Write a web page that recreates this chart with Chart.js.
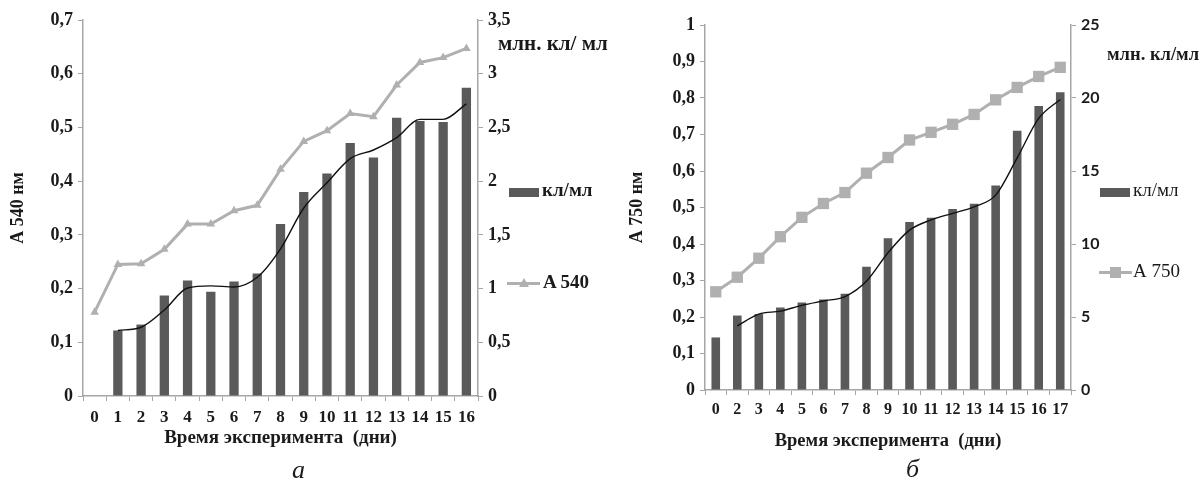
<!DOCTYPE html>
<html>
<head>
<meta charset="utf-8">
<script src="https://cdn.jsdelivr.net/npm/chart.js@4.4.1/dist/chart.umd.min.js"></script>
<style>
  body { margin: 0; background: #fff; }
  .page {
    position: relative;
    width: 1201px;
    height: 479px;
    overflow: hidden;
    font-family: "Liberation Serif", "DejaVu Serif", serif;
    color: #1a1a1a;
  }
  .panel { position: absolute; top: 0; height: 479px; }
  .lbl { position: absolute; white-space: nowrap; line-height: 1; }
  .b { font-weight: bold; }
  .sw-bar { position: absolute; width: 30px; height: 9px; background: #5a5a5a; }
  .sw-line { position: absolute; width: 33px; height: 3px; background: #b0b0b0; }
  .caption { position: absolute; font-style: italic; font-size: 26px; line-height: 1; }
</style>
</head>
<body>
<div class="page">
  <div class="panel" style="left:0; width:600px;">
    <canvas id="chartA" width="600" height="479"></canvas>
  </div>
  <div class="panel" style="left:600px; width:601px;">
    <canvas id="chartB" width="601" height="479"></canvas>
  </div>

  <!-- легенда панели а -->
  <div class="lbl b" style="left:498px; top:33px; font-size:21px;">млн. кл/ мл</div>
  <div class="sw-bar" style="left:509px; top:188px;"></div>
  <div class="lbl b" style="left:542px; top:180px; font-size:19px;">кл/мл</div>
  <div class="sw-line" style="left:507px; top:282px;"></div>
  <div class="lbl" style="left:519px; top:278px; width:0; height:0; border-left:5px solid transparent; border-right:5px solid transparent; border-bottom:9px solid #b0b0b0;"></div>
  <div class="lbl b" style="left:543px; top:272px; font-size:19px;">A 540</div>
  <div class="caption" style="left:292px; top:457px;">а</div>

  <!-- легенда панели б -->
  <div class="lbl b" style="left:1107px; top:45px; font-size:18.5px;">млн. кл/мл</div>
  <div class="sw-bar" style="left:1100px; top:188px;"></div>
  <div class="lbl" style="left:1133px; top:180px; font-size:19px;">кл/мл</div>
  <div class="sw-line" style="left:1099px; top:271px;"></div>
  <div class="lbl" style="left:1110px; top:267px; width:11px; height:11px; background:#b0b0b0;"></div>
  <div class="lbl" style="left:1133px; top:261px; font-size:19px;">А 750</div>
  <div class="caption" style="left:906px; top:456px;">б</div>
</div>

<script>
  // Панель а: дни 0..16
  const daysA = ["0", "1", "2", "3", "4", "5", "6", "7", "8", "9", "10", "11", "12", "13", "14", "15", "16"];
  // млн. кл/мл (правая ось)
  const cellsA = [null, 0.61, 0.665, 0.935, 1.075, 0.97, 1.065, 1.14, 1.6, 1.9, 2.07, 2.355, 2.22, 2.59, 2.56, 2.55, 2.87];
  // линия тренда (скользящее среднее), млн. кл/мл
  const trendA = [null, 0.61, 0.64, 0.8, 1.005, 1.025, 1.015, 1.105, 1.37, 1.75, 1.985, 2.21, 2.29, 2.405, 2.575, 2.575, 2.72];
  // оптическая плотность A 540 (левая ось)
  const a540 = [0.156, 0.245, 0.246, 0.273, 0.32, 0.32, 0.345, 0.355, 0.422, 0.474, 0.494, 0.526, 0.52, 0.579, 0.621, 0.63, 0.647];

  // Панель б: дни 0, 2..17
  const daysB = ["0", "2", "3", "4", "5", "6", "7", "8", "9", "10", "11", "12", "13", "14", "15", "16", "17"];
  const cellsB = [3.6, 5.1, 5.2, 5.65, 6.0, 6.2, 6.6, 8.45, 10.4, 11.5, 11.8, 12.4, 12.75, 14.0, 17.75, 19.45, 20.4];
  const trendB = [null, 4.4, 5.2, 5.4, 5.8, 6.1, 6.4, 7.45, 9.4, 10.95, 11.65, 12.1, 12.55, 13.35, 15.9, 18.6, 19.9];
  const a750 = [0.269, 0.309, 0.361, 0.42, 0.473, 0.511, 0.541, 0.594, 0.637, 0.685, 0.706, 0.728, 0.755, 0.795, 0.829, 0.859, 0.884];

  const SERIF = "'Liberation Serif', 'DejaVu Serif', serif";
  const AXIS = "#a6a6a6";
  const BAR = "#5a5a5a";
  const LINE = "#b0b0b0";

  function fmt(v) {
    const r = Math.round(v * 10) / 10;
    return Number.isInteger(r) ? String(r) : r.toFixed(1).replace(".", ",");
  }

  function makeChart(id, cfg) {
    return new Chart(document.getElementById(id), {
      type: "bar",
      data: {
        labels: cfg.labels,
        datasets: [
          {
            type: "line",
            data: cfg.trend,
            yAxisID: "y2",
            borderColor: "#111",
            borderWidth: 1.4,
            pointRadius: 0,
            cubicInterpolationMode: "monotone",
            order: 1,
          },
          {
            type: "line",
            data: cfg.absorb,
            yAxisID: "y",
            borderColor: LINE,
            backgroundColor: LINE,
            borderWidth: 3,
            pointStyle: cfg.pointStyle,
            pointRadius: cfg.pointRadius,
            pointBorderWidth: 0,
            tension: 0,
            order: 2,
          },
          {
            type: "bar",
            data: cfg.cells,
            yAxisID: "y2",
            backgroundColor: BAR,
            barPercentage: 0.4,
            categoryPercentage: 1,
            order: 3,
          },
        ],
      },
      options: {
        responsive: false,
        animation: false,
        layout: { padding: { left: 0, right: 0, top: cfg.top, bottom: 0 } },
        plugins: { legend: { display: false }, tooltip: { enabled: false } },
        scales: {
          x: {
            offset: true,
            grid: { drawOnChartArea: false, offset: true, tickLength: 5, color: AXIS },
            border: { color: AXIS, width: 1.5 },
            ticks: { font: { family: SERIF, size: cfg.xTickSize, weight: "bold" }, color: "#1a1a1a", padding: cfg.xTickPad, maxRotation: 0, autoSkip: false },
            title: {
              display: true,
              text: "Время эксперимента  (дни)",
              font: { family: SERIF, size: cfg.xTitleSize, weight: "bold" },
              color: "#1a1a1a",
              padding: { top: 0, bottom: cfg.xTitlePad },
            },
            afterFit: (s) => { s.height = cfg.xHeight; },
          },
          y: {
            position: "left",
            min: 0,
            max: cfg.yMax,
            grid: { drawOnChartArea: false, tickLength: 5, color: AXIS },
            border: { color: AXIS, width: 1.5 },
            ticks: { stepSize: 0.1, callback: fmt, font: { family: SERIF, size: 18, weight: "bold" }, color: "#1a1a1a", padding: 5 },
            title: {
              display: true,
              text: cfg.yTitle,
              font: { family: SERIF, size: 18, weight: "bold" },
              color: "#1a1a1a",
              padding: { top: cfg.yTitlePad, bottom: 0 },
            },
            afterFit: (s) => { s.width = cfg.yWidth; },
          },
          y2: {
            position: "right",
            min: 0,
            max: cfg.y2Max,
            grid: { drawOnChartArea: false, tickLength: 5, color: AXIS },
            border: { color: AXIS, width: 1.5 },
            ticks: { stepSize: cfg.y2Step, callback: fmt, font: cfg.y2Font, color: "#1a1a1a", padding: 5 },
            afterFit: (s) => { s.width = cfg.y2Width; },
          },
        },
      },
    });
  }

  makeChart("chartA", {
    labels: daysA, cells: cellsA, trend: trendA, absorb: a540,
    pointStyle: "triangle", pointRadius: 5,
    top: 20, xHeight: 83, xTickSize: 17, xTickPad: 6, xTitleSize: 19, xTitlePad: 30,
    yMax: 0.7, yTitle: "А 540 нм", yTitlePad: 8, yWidth: 83,
    y2Max: 3.5, y2Step: 0.5, y2Width: 122,
    y2Font: { family: SERIF, size: 18, weight: "bold" },
  });

  makeChart("chartB", {
    labels: daysB, cells: cellsB, trend: trendB, absorb: a750,
    pointStyle: "rect", pointRadius: 8,
    top: 25, xHeight: 89, xTickSize: 16, xTickPad: 5, xTitleSize: 18.5, xTitlePad: 27,
    yMax: 1, yTitle: "А 750 нм", yTitlePad: 27, yWidth: 105,
    y2Max: 25, y2Step: 5, y2Width: 130,
    y2Font: { family: "Lato, 'Open Sans', sans-serif", size: 16, weight: "bold" },
  });
</script>
</body>
</html>
